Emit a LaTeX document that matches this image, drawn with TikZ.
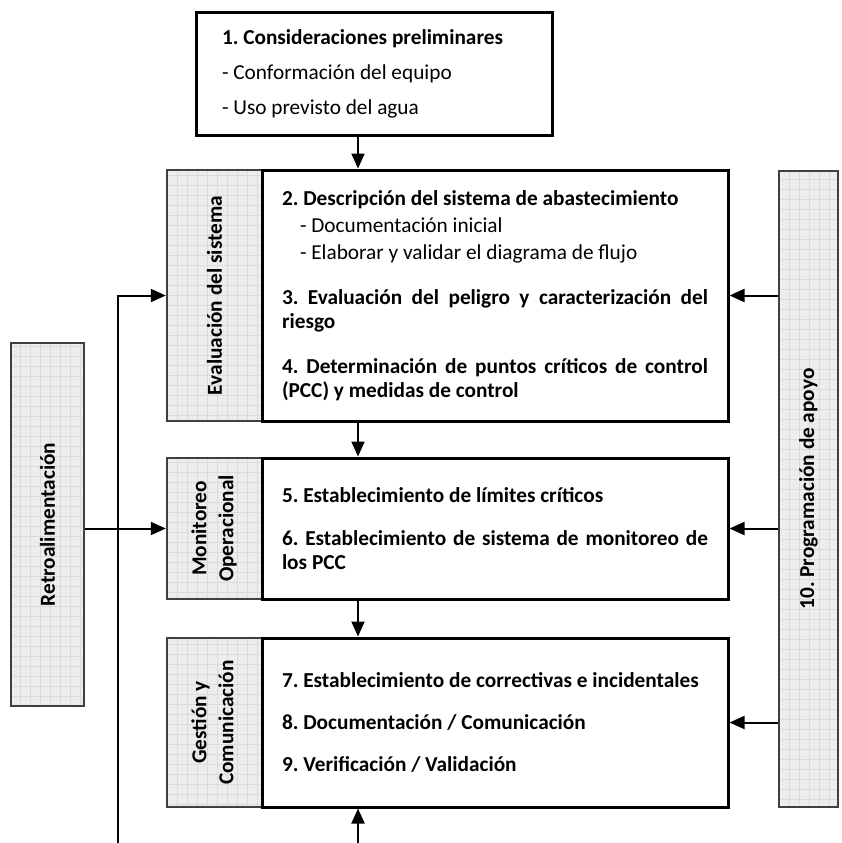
\documentclass[tikz,border=0pt]{standalone}
\usepackage{fontspec}
\setmainfont{Carlito}
\usepackage{graphicx}
\usepackage{tikz}
\usetikzlibrary{arrows.meta, positioning}
\tikzstyle{arrow}   = [line width=2pt, -{Triangle[length=15pt, width=13pt]}]
\tikzstyle{mainbox} = [rectangle, draw, line width=3pt, minimum width=466pt, inner xsep=20pt, inner ysep=0pt,
                       text width=426pt, align=justify, font=\bfseries\fontsize{21.3}{24}\selectfont]
\tikzstyle{tagbox}  = [rectangle, draw=black!75, line width=2.5pt, fill=black!7, inner sep=0pt, align=center,
                       font=\bfseries\fontsize{21.3}{27}\selectfont,
                       path picture={\draw[black!14, line width=0.8pt] (path picture bounding box.south west)
                                     grid[step=10pt] (path picture bounding box.north east);}]
\tikzstyle{topbox}  = [rectangle, draw, line width=3pt, minimum width=356pt, minimum height=122pt,
                       inner xsep=26pt, text width=304pt, align=justify, font=\fontsize{21.3}{24}\selectfont]

\begin{document}
\frenchspacing
\begin{tikzpicture}[x=1pt, y=-1pt]
    \useasboundingbox (0,0) rectangle (841,843);

    \node (prelim) at (374, 74) [topbox]
          {\textbf{1. Consideraciones preliminares}\\[11pt] - Conformación del equipo\\[11pt] - Uso previsto del agua};

    \node (evaltag) at (214.5, 295.5) [tagbox, minimum width=95pt, minimum height=251pt]
          {\rotatebox{90}{Evaluación del sistema}};
    \node (montag)  at (214.5, 528.5) [tagbox, minimum width=95pt, minimum height=141pt]
          {\rotatebox{90}{\begin{tabular}{@{}c@{}}Monitoreo\\Operacional\end{tabular}}};
    \node (gesttag) at (214.5, 722.5) [tagbox, minimum width=95pt, minimum height=169pt]
          {\rotatebox{90}{\begin{tabular}{@{}c@{}}Gestión y\\Comunicación\end{tabular}}};
    \node (retro)   at (47.5, 524.5)  [tagbox, minimum width=73pt, minimum height=363pt]
          {\rotatebox{90}{Retroalimentación}};
    \node (apoyo)   at (808.5, 489)   [tagbox, minimum width=59pt, minimum height=636pt]
          {\rotatebox{90}{10. Programación de apoyo}};

    \node (evalmain) at (495, 295.5) [mainbox, minimum height=251pt]
          {2. Descripción del sistema de abastecimiento\\[3pt]
           {\mdseries\hspace*{18pt}- Documentación inicial}\\[3pt]
           {\mdseries\hspace*{18pt}- Elaborar y validar el diagrama de flujo}\\[21pt]
           3. Evaluación del peligro y caracterización del\linebreak riesgo\\[21pt]
           4. Determinación de puntos críticos de control\linebreak (PCC) y medidas de control};
    \node (monmain)  at (495, 528.5) [mainbox, minimum height=141pt]
          {5. Establecimiento de límites críticos\\[19pt]
           6. Establecimiento de sistema de monitoreo de\linebreak los PCC};
    \node (gestmain) at (495, 722.5) [mainbox, minimum height=169pt]
          {7. Establecimiento de correctivas e incidentales\\[18pt]
           8. Documentación / Comunicación\\[18pt]
           9. Verificación / Validación};

    \coordinate (axis)    at (358, 0);
    \coordinate (loopbot) at (118, 843);
    \coordinate (inbot)   at (358, 843);

    \draw [arrow] (prelim.south -| axis)   -- (evalmain.north -| axis);
    \draw [arrow] (evalmain.south -| axis) -- (monmain.north -| axis);
    \draw [arrow] (monmain.south -| axis)  -- (gestmain.north -| axis);
    \draw [arrow] (inbot) -- (gestmain.south -| inbot);

    \draw [arrow] (apoyo.west |- evalmain.east) -- (evalmain.east);
    \draw [arrow] (apoyo.west |- monmain.east)  -- (monmain.east);
    \draw [arrow] (apoyo.west |- gestmain.east) -- (gestmain.east);

    \draw [arrow] (retro.east |- montag.west) -- (montag.west);
    \draw [arrow] (loopbot) |- (evaltag.west);
\end{tikzpicture}
\end{document}
